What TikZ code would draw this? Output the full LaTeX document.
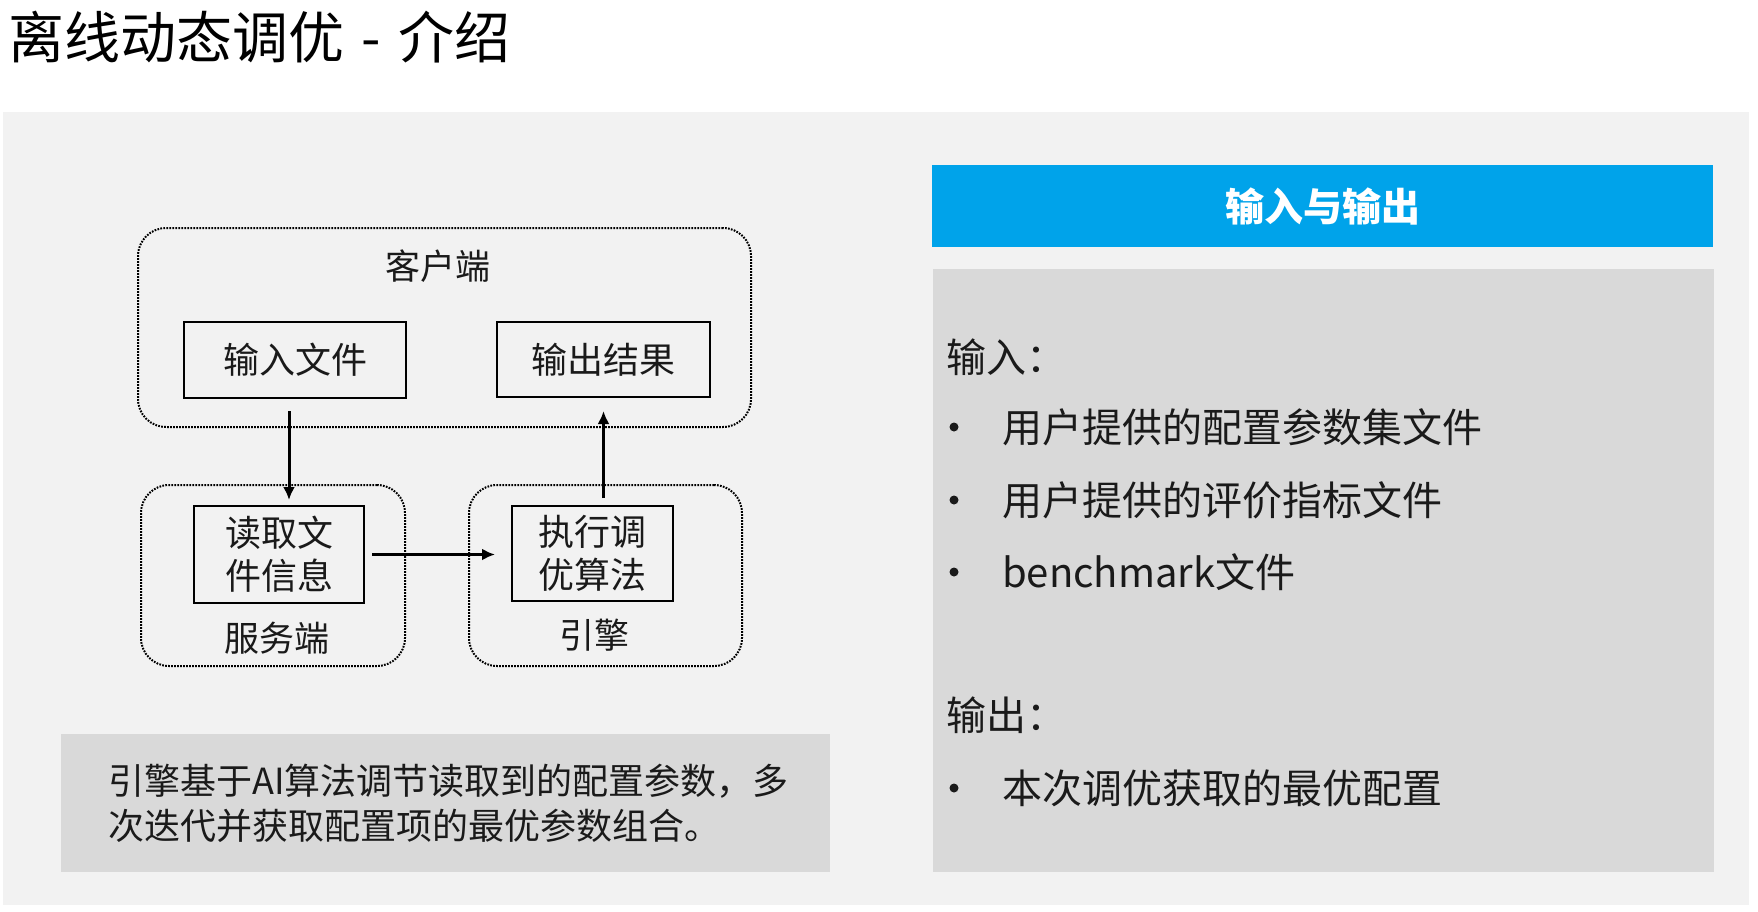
\documentclass[tikz,border=0pt]{standalone}
\usepackage{fontspec}
\setmainfont{Noto Sans CJK SC}
\usetikzlibrary{positioning,arrows.meta}
\definecolor{panelgray}{HTML}{F2F2F2}
\definecolor{boxgray}{HTML}{D9D9D9}
\definecolor{headblue}{RGB}{0,163,234}
\definecolor{txt}{HTML}{1A1A1A}
\begin{document}
\begin{tikzpicture}[x=1pt,y=-1pt,
    groupbox/.style={draw=black, line width=2pt, dash pattern=on 1.7pt off 1.3pt,
      rounded corners=28pt, inner sep=0pt},
    filebox/.style={draw=black, line width=2pt, inner sep=0pt, text=txt,
      font=\fontsize{36}{43}\selectfont, align=center},
    grouplabel/.style={text=txt, font=\fontsize{35}{42}\selectfont},
    signal/.style={line width=3pt, -{Latex[length=13pt,width=12pt]}},
    graybox/.style={fill=boxgray, inner sep=0pt},
    itemtext/.style={anchor=west, inner sep=0pt, text=txt, font=\fontsize{40}{48}\selectfont},
    dot/.style={circle, fill=txt, inner sep=0pt, minimum size=9pt}]
    \useasboundingbox (0,0) rectangle (1758,911);
    \fill[white] (0,0) rectangle (1758,911);
    \fill[panelgray] (3,112) rectangle (1749,905);
    \node[anchor=west, inner sep=0pt, font=\fontsize{56}{68}\selectfont] (title) at (8,37)
      {离线动态调优\hspace{0.3em}-\hspace{0.32em}介绍};
%    client / server / engine
    \node[groupbox, minimum width=613pt, minimum height=199pt] (client) at (444.5,327.5) {};
    \node[groupbox, minimum width=264pt, minimum height=181pt] (server) at (273,575.5) {};
    \node[groupbox, minimum width=273pt, minimum height=181pt] (engine) at (605.5,575.5) {};
    \node[grouplabel] (clientlbl) at (438,266) {客户端};
    \node[grouplabel] (serverlbl) at (277,638) {服务端};
    \node[grouplabel] (enginelbl) at (594,635) {引擎};
    \node[filebox, minimum width=222pt, minimum height=76pt] (infile) at (295,360) {输入文件};
    \node[filebox, minimum width=213pt, minimum height=75pt] (result) at (603.5,359.5) {输出结果};
    \node[filebox, minimum width=170pt, minimum height=97pt] (reader) at (279,554.5) {读取文\\件信息};
    \node[filebox, minimum width=161pt, minimum height=95pt] (tuner) at (592.5,553.5) {执行调\\优算法};
    \draw[signal, shorten <=12pt, shorten >=5pt] ([xshift=-6pt]infile.south) -- ([xshift=-6pt]infile.south |- reader.north);
    \draw[signal, shorten <=7pt, shorten >=16pt] (reader.east) -- (reader.east -| tuner.west);
    \draw[signal, shorten <=7pt, shorten >=13pt] (tuner.north -| result.south) -- (result.south);
%    note
    \node[graybox, minimum width=769pt, minimum height=138pt] (notebox) at (445.5,803) {};
    \node[anchor=west, align=left, inner sep=0pt, text=txt, font=\fontsize{36}{45}\selectfont] (note) at (108,803)
      {引擎基于AI算法调节读取到的配置参数，多\\次迭代并获取配置项的最优参数组合。};
%    input and output
    \node[fill=headblue, inner sep=0pt, minimum width=781pt, minimum height=82pt, text=white,
      font=\fontsize{39}{46}\selectfont\bfseries] (head) at (1322.5,206) {输入与输出};
    \node[graybox, minimum width=781pt, minimum height=603pt] (iobox) at (1323.5,570.5) {};
    \node[itemtext] (inhead) at (946,357) {输入：};
    \node[itemtext] (in1) at (1002,427) {用户提供的配置参数集文件};
    \node[itemtext] (in2) at (1002,500) {用户提供的评价指标文件};
    \node[itemtext] (in3) at (1002,572) {benchmark文件};
    \node[itemtext] (outhead) at (946,715) {输出：};
    \node[itemtext] (out1) at (1002,788) {本次调优获取的最优配置};
    \foreach \item in {in1,in2,in3,out1}
      \node[dot] at ([xshift=-48pt]\item.west) {};
\end{tikzpicture}
\end{document}
